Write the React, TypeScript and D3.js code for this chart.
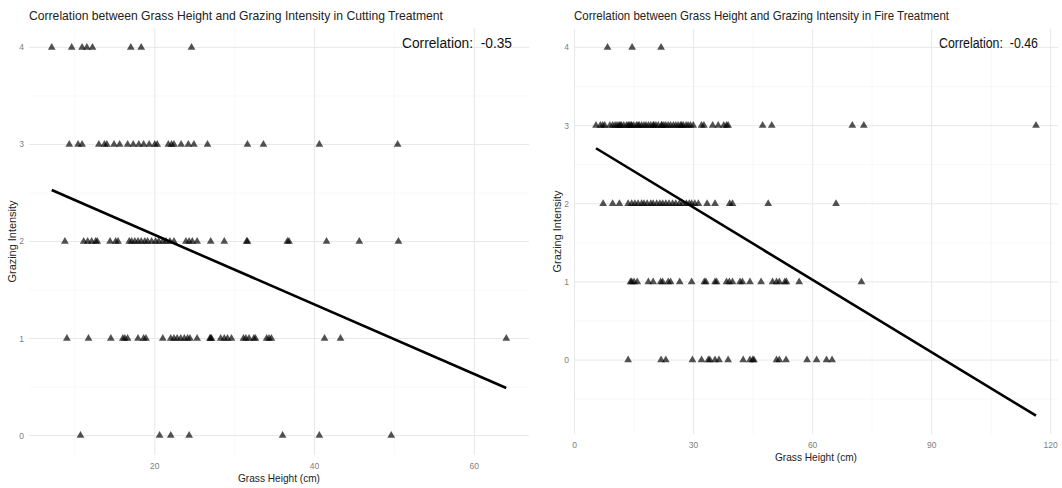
import React from 'react';
import * as d3 from 'd3';

// Cutting treatment: grass height (cm) per grazing intensity level
const cutLevel4 = [7.1, 9.6, 10.9, 11.5, 12.2, 17.0, 18.3, 24.6];
const cutLevel3 = [9.3, 10.4, 10.9, 13.0, 13.7, 14.0, 14.9, 15.6, 16.6, 17.3, 18.0, 18.6, 19.3, 20.0, 20.3,
  21.7, 22.1, 22.4, 23.3, 24.2, 24.9, 26.6, 31.6, 33.6, 40.6, 50.4];
const cutLevel2 = [8.75, 11.1, 11.6, 12.1, 12.6, 12.8, 14.4, 15.1, 15.4, 16.8, 17.1, 17.5, 17.9, 18.3, 18.75,
  19.1, 19.6, 20.1, 20.5, 21.0, 21.4, 21.9, 22.4, 23.9, 24.3, 24.7, 25.3, 27.0, 28.7, 31.5, 31.6, 36.6, 36.8,
  41.5, 45.6, 50.5];
const cutLevel1 = [9.0, 11.7, 14.5, 16.0, 16.25, 16.6, 17.9, 18.6, 18.9, 21.0, 22.0, 22.4, 22.8, 23.25, 23.7,
  24.1, 24.4, 25.3, 26.9, 27.0, 27.1, 28.25, 28.7, 29.1, 29.6, 31.1, 31.4, 31.8, 32.4, 32.6, 34.0, 34.3, 34.6,
  41.25, 43.25, 64.0];
const cutLevel0 = [10.7, 20.6, 22.0, 24.3, 36.0, 40.6, 49.6];
const cutFitX = [7.1, 64.0];
const cutFitY = [2.53, 0.49];
const cutCorrelation = '-0.35';

// Fire treatment
const fireLevel4 = [8.3, 14.5, 21.8];
const fireLevel3 = [5.4, 6.5, 7.1, 7.6, 8.9, 9.6, 10.2, 10.7, 11.2, 11.5, 11.8, 12.4, 13.1, 13.5, 13.8, 14.2,
  14.4, 14.9, 15.6, 16.0, 16.3, 16.9, 17.5, 18.0, 18.6, 19.2, 19.8, 20.0, 20.5, 21.1, 21.9, 22.0, 22.5, 23.0,
  23.6, 24.2, 24.9, 25.5, 26.1, 26.7, 27.0, 27.4, 28.1, 28.6, 29.2, 29.9, 32.0, 32.6, 34.8, 36.2, 37.6, 38.3,
  38.7, 47.4, 49.7, 70.0, 72.9, 116.3];
const fireLevel2 = [7.2, 9.6, 11.3, 13.5, 14.4, 15.2, 16.0, 16.9, 17.5, 18.3, 19.2, 19.8, 20.7, 21.5, 22.2, 23.0,
  23.8, 24.7, 25.5, 26.4, 27.2, 28.2, 28.9, 29.5, 30.3, 31.2, 33.4, 35.4, 39.1, 39.8, 48.8, 65.9];
const fireLevel1 = [14.1, 14.4, 15.0, 15.8, 18.6, 19.8, 21.7, 22.2, 23.6, 24.2, 26.5, 29.5, 32.7, 33.1, 35.4, 35.8,
  38.3, 39.0, 39.8, 41.7, 42.3, 44.2, 47.0, 49.9, 50.9, 51.6, 53.0, 53.4, 56.6, 72.3];
const fireLevel0 = [13.5, 21.8, 23.0, 29.7, 32.0, 33.7, 34.1, 35.4, 36.4, 38.7, 42.5, 44.2, 44.9, 45.2, 50.9, 51.6,
  53.3, 58.6, 61.0, 63.5, 64.9];
const fireFitX = [5.4, 116.3];
const fireFitY = [2.71, -0.71];
const fireCorrelation = '-0.46';

const cutXTicks = [20, 40, 60];
const cutXMinor = [10, 30, 50];
const fireXTicks = [0, 30, 60, 90, 120];
const fireXMinor = [15, 45, 75, 105];
const yTicks = [0, 1, 2, 3, 4];
const yMinor = [-0.5, 0.5, 1.5, 2.5, 3.5];

const font = '"Liberation Sans", Arial, sans-serif';

type Pt = { x: number; y: number };

function toPoints(levels: number[][]): Pt[] {
  const out: Pt[] = [];
  levels.forEach((xs, level) => xs.forEach(x => out.push({ x, y: level })));
  return out;
}

function expand(ext: [number, number]): [number, number] {
  const pad = (ext[1] - ext[0]) * 0.05;
  return [ext[0] - pad, ext[1] + pad];
}

type PanelProps = {
  title: string;
  titleLen: number;
  corr: string;
  corrLen: number;
  corrRight: number;
  points: Pt[];
  fitX: number[];
  fitY: number[];
  xTicks: number[];
  xMinor: number[];
  left: number;
  right: number;
  top: number;
  bottom: number;
  yTitleX: number;
};

const Panel = (p: PanelProps) => {
  const xDomain = expand(d3.extent([...p.points.map(d => d.x), ...p.fitX]) as [number, number]);
  const yDomain = expand(d3.extent([...p.points.map(d => d.y), ...p.fitY]) as [number, number]);
  const x = d3.scaleLinear().domain(xDomain).range([p.left, p.right]);
  const y = d3.scaleLinear().domain(yDomain).range([p.bottom, p.top]);
  const tri = d3.symbol(d3.symbolTriangle, 26)()!;
  const line = d3.line<number>().x((_, i) => x(p.fitX[i])).y(d => y(d));
  const inY = (v: number) => v >= yDomain[0] && v <= yDomain[1];
  const inX = (v: number) => v >= xDomain[0] && v <= xDomain[1];
  const midX = (p.left + p.right) / 2;
  const midY = (p.top + p.bottom) / 2;

  return (
    <g>
      {yMinor.filter(inY).map(v => (
        <line key={'ym' + v} x1={p.left} x2={p.right} y1={y(v)} y2={y(v)} stroke="#f3f3f3" strokeWidth={0.6} />
      ))}
      {p.xMinor.filter(inX).map(v => (
        <line key={'xm' + v} x1={x(v)} x2={x(v)} y1={p.top} y2={p.bottom} stroke="#f3f3f3" strokeWidth={0.6} />
      ))}
      {yTicks.filter(inY).map(v => (
        <line key={'y' + v} x1={p.left} x2={p.right} y1={y(v)} y2={y(v)} stroke="#e8e8e8" strokeWidth={1} />
      ))}
      {p.xTicks.filter(inX).map(v => (
        <line key={'x' + v} x1={x(v)} x2={x(v)} y1={p.top} y2={p.bottom} stroke="#e8e8e8" strokeWidth={1} />
      ))}
      {p.points.map((d, i) => (
        <path key={i} d={tri} transform={`translate(${x(d.x)},${y(d.y)})`} fill="#000" fillOpacity={0.68} />
      ))}
      <path d={line(p.fitY) || ''} fill="none" stroke="#000" strokeWidth={2.6} />
      {yTicks.filter(inY).map(v => (
        <text key={'yl' + v} x={p.left - 5} y={y(v)} dy="0.35em" textAnchor="end" fontSize={8.5} fill="#808080"
          fontFamily={font}>{v}</text>
      ))}
      {p.xTicks.filter(inX).map(v => (
        <text key={'xl' + v} x={x(v)} y={p.bottom + 11} dy="0.35em" textAnchor="middle" fontSize={8.5} fill="#808080"
          fontFamily={font}>{v}</text>
      ))}
      <text x={midX} y={p.bottom + 23} dy="0.35em" textAnchor="middle" fontSize={11} fill="#222"
        fontFamily={font} textLength={82} lengthAdjust="spacingAndGlyphs">Grass Height (cm)</text>
      <text transform={`translate(${p.yTitleX},${midY}) rotate(-90)`} dy="0.35em" textAnchor="middle" fontSize={11}
        fill="#222" fontFamily={font} textLength={82} lengthAdjust="spacingAndGlyphs">Grazing Intensity</text>
      <text x={p.left} y={15} dy="0.35em" fontSize={13.5} fill="#222" fontFamily={font}
        textLength={p.titleLen} lengthAdjust="spacingAndGlyphs">{p.title}</text>
      <text x={p.corrRight - p.corrLen} y={43} dy="0.35em" fontSize={14} fill="#111" fontFamily={font}
        textLength={p.corrLen} lengthAdjust="spacingAndGlyphs">{'Correlation:\u00a0\u00a0' + p.corr}</text>
    </g>
  );
};

export default function App() {
  const cutPoints = toPoints([cutLevel0, cutLevel1, cutLevel2, cutLevel3, cutLevel4]);
  const firePoints = toPoints([fireLevel0, fireLevel1, fireLevel2, fireLevel3, fireLevel4]);
  return (
    <svg width={1062} height={488} style={{ position: 'absolute', left: 0, top: 0, background: '#fff' }}>
      <Panel
        title="Correlation between Grass Height and Grazing Intensity in Cutting Treatment"
        titleLen={414}
        corr={cutCorrelation}
        corrLen={110}
        corrRight={512}
        points={cutPoints}
        fitX={cutFitX}
        fitY={cutFitY}
        xTicks={cutXTicks}
        xMinor={cutXMinor}
        left={29}
        right={529}
        top={28}
        bottom={455}
        yTitleX={12}
      />
      <Panel
        title="Correlation between Grass Height and Grazing Intensity in Fire Treatment"
        titleLen={375}
        corr={fireCorrelation}
        corrLen={99}
        corrRight={1038}
        points={firePoints}
        fitX={fireFitX}
        fitY={fireFitY}
        xTicks={fireXTicks}
        xMinor={fireXMinor}
        left={574}
        right={1058}
        top={29}
        bottom={434}
        yTitleX={557}
      />
    </svg>
  );
}
